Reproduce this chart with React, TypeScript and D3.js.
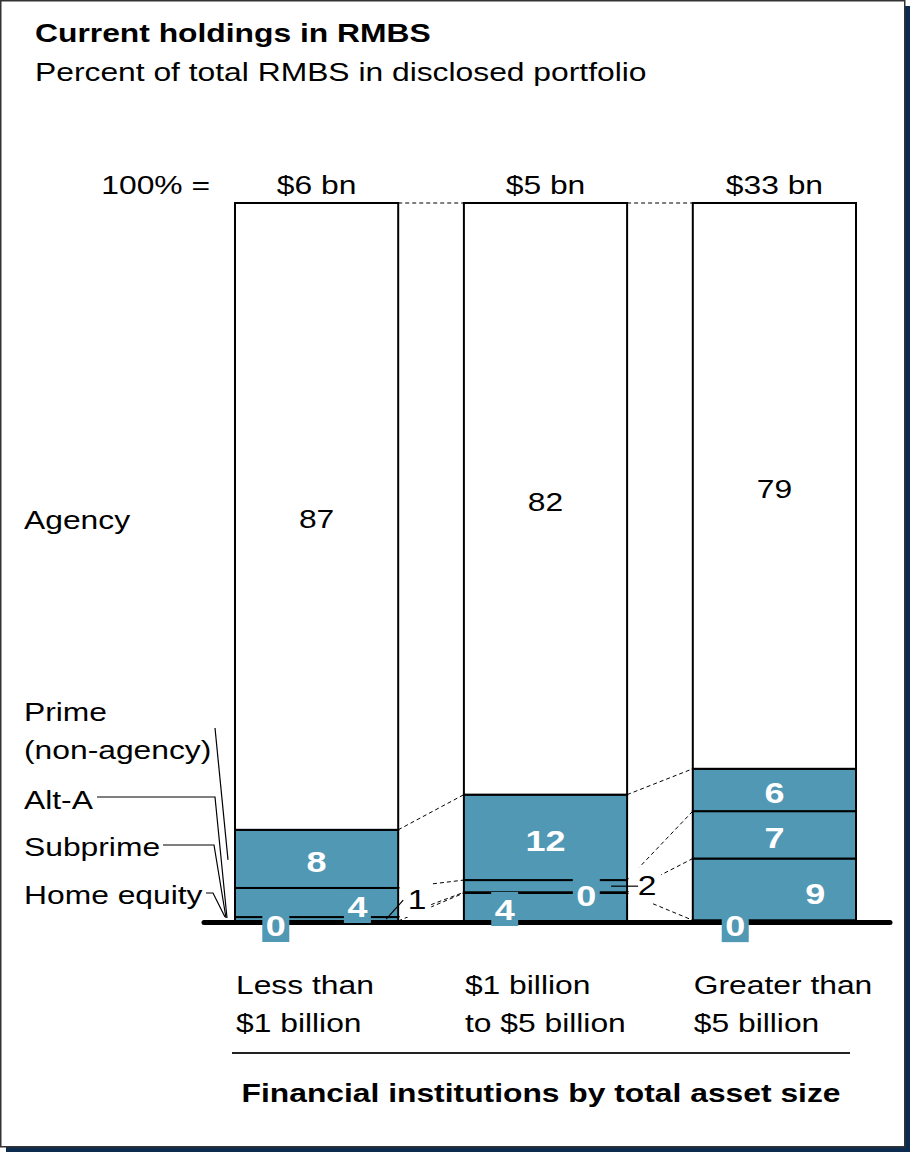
import React from "react";
import * as d3 from "d3";

// ---------- data ----------
const categories = ["Less than $1 billion", "$1 billion to $5 billion", "Greater than $5 billion"];
const categoryLines = [
  ["Less than", "$1 billion"],
  ["$1 billion", "to $5 billion"],
  ["Greater than", "$5 billion"],
];
const totals = ["$6 bn", "$5 bn", "$33 bn"];
const seriesKeys = ["he", "sub", "alt", "prime", "agency"];
const seriesNames = ["Home equity", "Subprime", "Alt-A", "Prime (non-agency)", "Agency"];
// percent of total RMBS (labels are rounded)
const homeEquity = [0.0, 3.9, 0.1];
const subprime = [0.55, 0.1, 8.6];
const altA = [4.05, 1.7, 6.6];
const prime = [8.1, 11.9, 5.9];
const agency = [87.3, 82.4, 78.8];

// ---------- layout / style ----------
const W = 910;
const H = 1152;
const TEAL = "#5098B4";
const FONT = "'Liberation Sans', Arial, Helvetica, sans-serif";
const SX = 1.2; // horizontal text stretch
const FS = 26.5;

type Place = { mode: "center" | "box" | "out" | "plain"; fx?: number; dy?: number; dx?: number; lx0?: number; lx1?: number; bold?: boolean };
const labelLayout: Record<string, Place>[] = [
  {
    he: { mode: "box", fx: 0.25, dy: 4 },
    sub: { mode: "out", dx: 19, dy: -20, lx0: 5, lx1: -12 },
    alt: { mode: "box", fx: 0.75, dy: 3.5 },
    prime: { mode: "center", bold: true },
    agency: { mode: "center" },
  },
  {
    he: { mode: "box", fx: 0.25, dy: 2 },
    sub: { mode: "box", fx: 0.75, dy: 2.5 },
    alt: { mode: "out", dx: 20, dy: -1, lx0: 11, lx1: -16 },
    prime: { mode: "center", bold: true },
    agency: { mode: "center" },
  },
  {
    he: { mode: "box", fx: 0.26, dy: 4.5 },
    sub: { mode: "box", fx: 0.75, dy: 3.5 },
    alt: { mode: "center", bold: true },
    prime: { mode: "center", bold: true },
    agency: { mode: "center" },
  },
];

function T(props: { x: number; y: number; size?: number; bold?: boolean; anchor?: string; fill?: string; children: React.ReactNode }) {
  const { x, y, size = FS, bold = false, anchor = "start", fill = "#000", children } = props;
  return (
    <text
      transform={`translate(${x},${y}) scale(${SX},1)`}
      textAnchor={anchor as any}
      fontSize={size}
      fontWeight={bold ? "bold" : "normal"}
      fill={fill}
      fontFamily={FONT}
    >
      {children}
    </text>
  );
}

export default function App() {
  const x = d3.scaleBand<string>().domain(categories).range([235, 856]).paddingInner(0.287).paddingOuter(0);
  const bw = x.bandwidth();
  const y = d3.scaleLinear().domain([0, 100]).range([921, 203]);

  const rows = categories.map((c, i) => ({
    cat: c,
    he: homeEquity[i],
    sub: subprime[i],
    alt: altA[i],
    prime: prime[i],
    agency: agency[i],
  }));
  const stacked = d3.stack<any>().keys(seriesKeys)(rows);

  const segs: any[] = [];
  stacked.forEach((layer, k) => {
    layer.forEach((d, i) => {
      segs.push({ key: seriesKeys[k], i, y0: d[0], y1: d[1], value: (rows[i] as any)[seriesKeys[k]] });
    });
  });

  // connectors between adjacent bars
  const connectors: any[] = [];
  stacked.forEach((layer) => {
    for (let i = 0; i < categories.length - 1; i++) {
      connectors.push({
        x1: (x(categories[i]) as number) + bw,
        y1: y(layer[i][1]),
        x2: x(categories[i + 1]) as number,
        y2: y(layer[i + 1][1]),
      });
    }
  });

  const bl = x(categories[0]) as number;
  const primeMid0 = y((stacked[3][0][0] + stacked[3][0][1]) / 2);
  const agencyMid0 = y((stacked[4][0][0] + stacked[4][0][1]) / 2);

  const boxW = 27;
  const boxH = 34;
  const BFS = 30;

  const boxes: any[] = [];
  const centers: any[] = [];
  const outs: any[] = [];
  segs.forEach((s) => {
    const p = labelLayout[s.i][s.key];
    const left = x(categories[s.i]) as number;
    const mid = y((s.y0 + s.y1) / 2);
    const label = String(Math.round(s.value));
    if (p.mode === "center") {
      centers.push({ x: left + bw / 2, cy: mid + 2.5, label, bold: !!p.bold, key: s.key + s.i });
    } else if (p.mode === "box") {
      boxes.push({ x: left + bw * (p.fx as number), cy: mid + (p.dy || 0), label, key: s.key + s.i });
    } else if (p.mode === "out") {
      const right = left + bw;
      outs.push({
        right,
        cx: right + (p.dx as number),
        cy: mid + (p.dy || 0),
        lx0: right + (p.lx0 as number),
        lx1: right + (p.lx1 as number),
        ly0: mid + (p.dy || 0) + 1,
        ly1: mid,
        label,
        key: s.key + s.i,
      });
    }
  });

  const lineStroke = "#000";

  return (
    <svg width={W} height={H} style={{ position: "absolute", left: 0, top: 0, display: "block" }}>
      {/* frame */}
      <rect x={6} y={6} width={904} height={1146} fill="#0d2a4f" />
      <rect x={0.75} y={0.75} width={904} height={1146} fill="#fff" stroke="#333" strokeWidth={1.5} />

      {/* titles */}
      <T x={35} y={42} bold>Current holdings in RMBS</T>
      <T x={35} y={81}>Percent of total RMBS in disclosed portfolio</T>

      {/* totals */}
      <T x={210} y={193.5} anchor="end">100% =</T>
      {categories.map((c, i) => (
        <T key={c} x={(x(c) as number) + bw / 2} y={193.5} anchor="middle">
          {totals[i]}
        </T>
      ))}

      {/* segments */}
      {segs.map((s) => (
        <rect
          key={s.key + s.i}
          x={x(categories[s.i]) as number}
          y={y(s.y1)}
          width={bw}
          height={Math.max(0, y(s.y0) - y(s.y1))}
          fill={s.key === "agency" ? "#fff" : TEAL}
          stroke={lineStroke}
          strokeWidth={2}
        />
      ))}

      {/* dashed connectors */}
      {connectors.map((c, j) => (
        <line key={j} x1={c.x1} y1={c.y1} x2={c.x2} y2={c.y2} stroke="#000" strokeWidth={1} strokeDasharray="4,3" />
      ))}

      {/* baseline */}
      <line x1={204} x2={890} y1={922.5} y2={922.5} stroke="#000" strokeWidth={5} strokeLinecap="round" />

      {/* outside labels (masked) */}
      {outs.map((o) => (
        <g key={o.key}>
          <rect x={o.right + 1.5} y={o.cy - 18} width={o.cx + 14 - (o.right + 1.5)} height={36} fill="#fff" />
          <line x1={o.lx0} y1={o.ly0} x2={o.lx1} y2={o.ly1} stroke="#000" strokeWidth={1.2} />
          <T x={o.cx} y={o.cy + 0.358 * 28} size={28} anchor="middle">
            {o.label}
          </T>
        </g>
      ))}

      {/* boxed labels */}
      {boxes.map((b) => (
        <g key={b.key}>
          <rect x={b.x - boxW / 2} y={b.cy - boxH / 2} width={boxW} height={boxH} fill={TEAL} />
          <T x={b.x} y={b.cy + 0.358 * BFS} size={BFS} bold anchor="middle" fill="#fff">
            {b.label}
          </T>
        </g>
      ))}

      {/* centered labels */}
      {centers.map((c) => (
        <T
          key={c.key}
          x={c.x}
          y={c.cy + 0.358 * (c.bold ? BFS : FS)}
          size={c.bold ? BFS : FS}
          bold={c.bold}
          anchor="middle"
          fill={c.bold ? "#fff" : "#000"}
        >
          {c.label}
        </T>
      ))}

      {/* series labels on left */}
      <T x={24} y={agencyMid0 + 3.5 + 0.358 * FS}>{seriesNames[4]}</T>
      <T x={24} y={721}>Prime</T>
      <T x={24} y={759}>(non-agency)</T>
      <T x={24} y={809}>{seriesNames[2]}</T>
      <T x={24} y={856}>{seriesNames[1]}</T>
      <T x={24} y={904}>{seriesNames[0]}</T>

      {/* pointer lines */}
      <g stroke="#000" strokeWidth={1.2} fill="none">
        <polyline points={`${bl - 20},728 ${bl - 7},${primeMid0 + 1}`} />
        <polyline points={`97,797 ${bl - 20},797 ${bl - 8},918`} />
        <polyline points={`163,845 ${bl - 21},845 ${bl - 9},918`} />
        <polyline points={`206,893 ${bl - 22},893 ${bl - 10},917`} />
      </g>

      {/* category labels */}
      {categories.map((c, i) => (
        <g key={c}>
          <T x={(x(c) as number) + 1} y={994}>{categoryLines[i][0]}</T>
          <T x={(x(c) as number) + 1} y={1032}>{categoryLines[i][1]}</T>
        </g>
      ))}

      <line x1={232} x2={850} y1={1053} y2={1053} stroke="#222" strokeWidth={2} />
      <T x={541} y={1102} bold anchor="middle">Financial institutions by total asset size</T>
    </svg>
  );
}
